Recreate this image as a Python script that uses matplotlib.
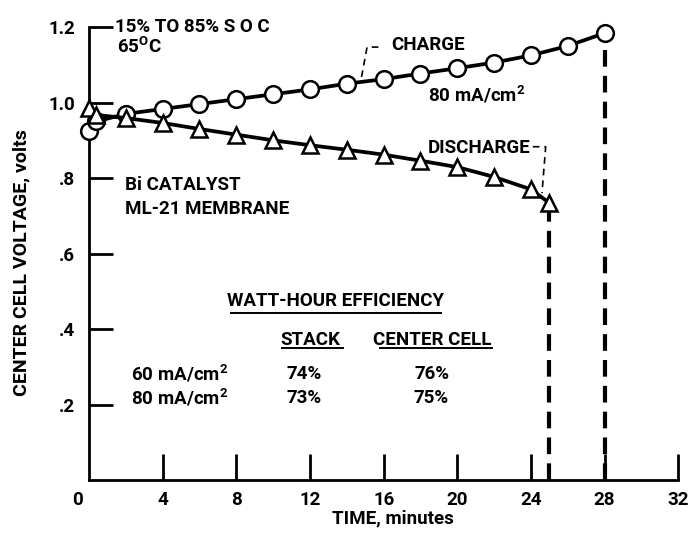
# Center cell voltage during charge / discharge
import matplotlib
matplotlib.use("Agg")
import matplotlib.pyplot as plt

plt.rcParams['font.family'] = ['Roboto', 'DejaVu Sans']
plt.rcParams['font.weight'] = 'bold'
plt.rcParams['axes.labelweight'] = 'bold'
plt.rcParams['mathtext.default'] = 'regular'

# data
charge_t = [0, 0.4, 2, 4, 6, 8, 10, 12, 14, 16, 18, 20, 22, 24, 26, 28]
charge_v = [0.925, 0.95, 0.970, 0.983, 0.996, 1.009, 1.022, 1.035, 1.050, 1.062,
            1.077, 1.091, 1.106, 1.125, 1.150, 1.184]
discharge_t = [0, 0.4, 2, 4, 6, 8, 10, 12, 14, 16, 18, 20, 22, 24, 25]
discharge_v = [0.985, 0.967, 0.959, 0.946, 0.930, 0.915, 0.900, 0.887, 0.875, 0.862,
               0.846, 0.829, 0.803, 0.770, 0.734]

x_ticks = [4, 8, 12, 16, 20, 24, 28, 32]
y_ticks = [0.2, 0.4, 0.6, 0.8, 1.0, 1.2]
y_labels = ['.2', '.4', '.6', '.8', '1.0', '1.2']

eff_rows = ['60 mA/cm$^2$', '80 mA/cm$^2$']
eff_stack = ['74%', '73%']
eff_center = ['76%', '75%']

fs = 13.5

fig = plt.figure(figsize=(6.9, 5.33), dpi=100)
ax = fig.add_axes([0.129, 0.0994, 0.854, 0.8498])

# end-of-run dashed verticals
ax.plot([discharge_t[-1]] * 2, [0, discharge_v[-1]], color='black', lw=3,
        dashes=(4, 2.2), zorder=2)
ax.plot([charge_t[-1]] * 2, [0, charge_v[-1]], color='black', lw=3,
        dashes=(4, 2.2), zorder=2)

ax.plot(charge_t, charge_v, color='black', lw=2.7, marker='o', ms=12,
        mfc='white', mec='black', mew=1.8, clip_on=False, zorder=3)
ax.plot(discharge_t, discharge_v, color='black', lw=2.7, marker='^', ms=12,
        mfc='white', mec='black', mew=1.8, clip_on=False, zorder=3)

ax.set_xlim(0, 32)
ax.set_ylim(0, 1.2)
ax.set_xticks(x_ticks)
ax.set_xticklabels([str(t) for t in x_ticks], fontsize=fs)
ax.set_yticks(y_ticks)
ax.set_yticklabels(y_labels, fontsize=fs)
ax.tick_params(axis='x', direction='in', length=19, width=2, pad=8)
ax.tick_params(axis='y', direction='in', length=17, width=2, pad=10)
ax.spines['top'].set_visible(False)
ax.spines['right'].set_visible(False)
ax.spines['left'].set_linewidth(2)
ax.spines['bottom'].set_linewidth(2)
ax.text(-0.35, -0.03, '0', fontsize=fs, ha='right', va='top')

ax.set_xlabel('TIME, minutes', fontsize=fs)
ax.xaxis.set_label_coords(0.515, -0.066)
ax.set_ylabel('CENTER CELL VOLTAGE, volts', fontsize=fs + 0.5)
ax.yaxis.set_label_coords(-0.10, 0.48)

# annotations
ax.text(1.4, 1.2, '15% TO 85% S O C', fontsize=fs, va='center')
ax.text(1.5, 1.147, '65$^{O}$C', fontsize=fs, va='center')
ax.text(1.95, 0.781, 'Bi CATALYST', fontsize=fs, va='center')
ax.text(1.95, 0.718, 'ML-21 MEMBRANE', fontsize=fs, va='center')

ax.text(16.4, 1.152, 'CHARGE', fontsize=fs, va='center')
ax.plot([14.8, 15.1, 15.9], [1.068, 1.147, 1.147], color='black', lw=1.2,
        ls=(0, (4, 3)))
ax.text(18.4, 1.02, '80 mA/cm$^2$', fontsize=fs, va='center')

ax.text(18.4, 0.88, 'DISCHARGE', fontsize=fs, va='center')
ax.plot([24.1, 24.8, 24.6], [0.883, 0.883, 0.76], color='black', lw=1.2,
        ls=(0, (4, 3)))

# efficiency table
ax.text(13.4, 0.474, 'WATT-HOUR EFFICIENCY', fontsize=fs, ha='center', va='center')
ax.plot([7.7, 19.1], [0.442, 0.442], color='black', lw=1.4)
ax.text(12.0, 0.371, 'STACK', fontsize=fs, ha='center', va='center')
ax.plot([10.5, 13.8], [0.35, 0.35], color='black', lw=1.4)
ax.text(18.65, 0.371, 'CENTER CELL', fontsize=fs, ha='center', va='center')
ax.plot([15.8, 21.9], [0.35, 0.35], color='black', lw=1.4)
for i, lab in enumerate(eff_rows):
    yy = 0.28 - 0.062 * i
    ax.text(2.3, yy, lab, fontsize=fs, va='center')
    ax.text(11.7, yy, eff_stack[i], fontsize=fs, ha='center', va='center')
    ax.text(18.6, yy, eff_center[i], fontsize=fs, ha='center', va='center')

fig.savefig('out.png', dpi=100)
